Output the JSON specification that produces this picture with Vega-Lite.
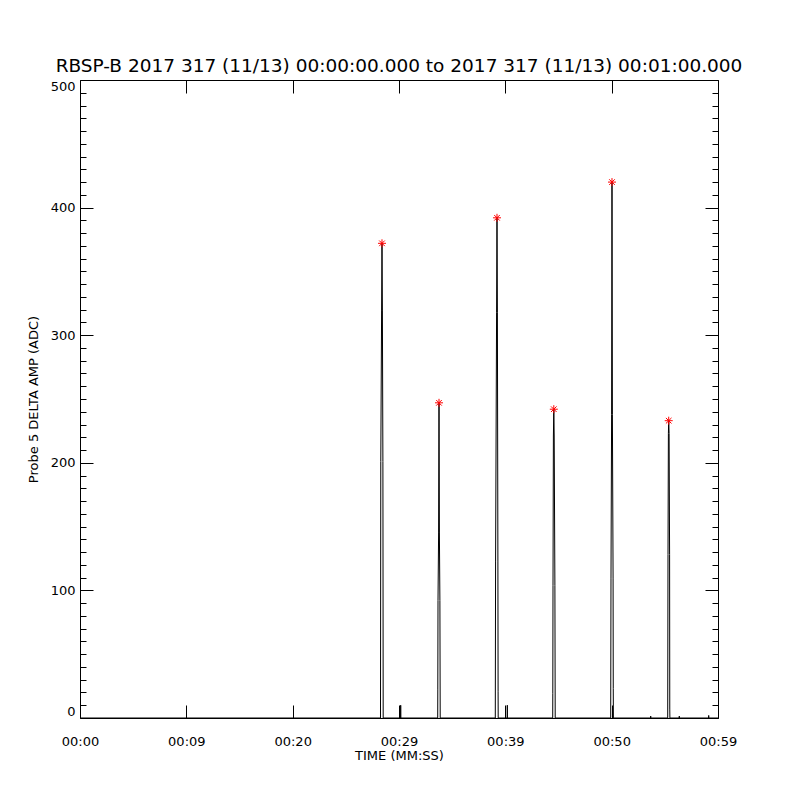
{
  "$schema": "https://vega.github.io/schema/vega-lite/v6.json",
  "width": 638,
  "height": 638,
  "autosize": {"type": "none"},
  "padding": {"left": 80, "top": 80, "right": 82, "bottom": 82},
  "background": "white",
  "title": {
    "text": "RBSP-B 2017 317 (11/13) 00:00:00.000 to 2017 317 (11/13) 00:01:00.000",
    "font": "DejaVu Sans",
    "fontSize": 18.5,
    "fontWeight": "normal",
    "color": "black",
    "anchor": "middle",
    "offset": 4
  },
  "config": {
    "view": {"stroke": "black", "strokeWidth": 1},
    "axis": {
      "grid": false,
      "domain": false,
      "labelFont": "DejaVu Sans",
      "labelFontSize": 13,
      "labelColor": "black",
      "tickColor": "black",
      "tickWidth": 1,
      "titleFont": "DejaVu Sans",
      "titleFontSize": 13,
      "titleFontWeight": "normal",
      "titleColor": "black",
      "labelFlush": false,
      "labelOverlap": false,
      "labelBound": false
    }
  },
  "datasets": {
    "series": [
      {"t": 0, "amp": 0},
      {"t": 28.26, "amp": 0},
      {"t": 28.288, "amp": 201},
      {"t": 28.364, "amp": 319},
      {"t": 28.401, "amp": 372},
      {"t": 28.439, "amp": 319},
      {"t": 28.486, "amp": 201},
      {"t": 28.514, "amp": 0},
      {"t": 30.15, "amp": 0},
      {"t": 30.16, "amp": 10},
      {"t": 30.17, "amp": 0},
      {"t": 33.64, "amp": 0},
      {"t": 33.65, "amp": 22},
      {"t": 33.668, "amp": 92},
      {"t": 33.724, "amp": 145},
      {"t": 33.762, "amp": 247},
      {"t": 33.799, "amp": 145},
      {"t": 33.846, "amp": 92},
      {"t": 33.875, "amp": 0},
      {"t": 39.056, "amp": 0},
      {"t": 39.084, "amp": 123},
      {"t": 39.178, "amp": 318},
      {"t": 39.216, "amp": 392},
      {"t": 39.254, "amp": 318},
      {"t": 39.301, "amp": 123},
      {"t": 39.32, "amp": 21},
      {"t": 39.329, "amp": 0},
      {"t": 40.175, "amp": 0},
      {"t": 40.185, "amp": 10},
      {"t": 40.195, "amp": 0},
      {"t": 44.455, "amp": 0},
      {"t": 44.465, "amp": 19},
      {"t": 44.483, "amp": 104},
      {"t": 44.52, "amp": 221},
      {"t": 44.558, "amp": 242},
      {"t": 44.595, "amp": 221},
      {"t": 44.661, "amp": 104},
      {"t": 44.69, "amp": 0},
      {"t": 49.909, "amp": 0},
      {"t": 49.937, "amp": 109},
      {"t": 49.994, "amp": 238},
      {"t": 50.031, "amp": 420},
      {"t": 50.069, "amp": 238},
      {"t": 50.134, "amp": 109},
      {"t": 50.15, "amp": 23},
      {"t": 50.163, "amp": 0},
      {"t": 53.66, "amp": 0},
      {"t": 53.671, "amp": 1.5},
      {"t": 53.68, "amp": 0},
      {"t": 55.27, "amp": 0},
      {"t": 55.298, "amp": 128},
      {"t": 55.335, "amp": 223},
      {"t": 55.364, "amp": 233},
      {"t": 55.401, "amp": 223},
      {"t": 55.448, "amp": 128},
      {"t": 55.465, "amp": 7},
      {"t": 55.476, "amp": 0},
      {"t": 56.35, "amp": 0},
      {"t": 56.361, "amp": 1.5},
      {"t": 56.37, "amp": 0},
      {"t": 59.115, "amp": 0},
      {"t": 59.125, "amp": 2},
      {"t": 59.135, "amp": 0},
      {"t": 60, "amp": 0}
    ],
    "peaks": [
      {"t": 28.401, "amp": 372},
      {"t": 33.762, "amp": 247},
      {"t": 39.216, "amp": 392},
      {"t": 44.558, "amp": 242},
      {"t": 50.031, "amp": 420},
      {"t": 55.364, "amp": 233}
    ]
  },
  "layer": [
    {
      "data": {"name": "series"},
      "mark": {"type": "line", "color": "black", "strokeWidth": 1, "clip": true, "interpolate": "linear"},
      "encoding": {
        "x": {
          "field": "t",
          "type": "quantitative",
          "sort": null,
          "scale": {"domain": [0, 60], "nice": false, "zero": false},
          "axis": {
            "orient": "bottom",
            "values": [0, 10, 20, 30, 40, 50, 60],
            "tickSize": -13,
            "labelPadding": 30,
            "labelExpr": "['00:00','00:09','00:20','00:29','00:39','00:50','00:59'][round(datum.value/10)]",
            "title": "TIME (MM:SS)",
            "titlePadding": 1
          }
        },
        "y": {
          "field": "amp",
          "type": "quantitative",
          "scale": {"domain": [0, 500], "nice": false},
          "axis": {
            "orient": "left",
            "values": [0, 10, 20, 30, 40, 50, 60, 70, 80, 90, 100, 110, 120, 130, 140, 150, 160, 170, 180, 190, 200, 210, 220, 230, 240, 250, 260, 270, 280, 290, 300, 310, 320, 330, 340, 350, 360, 370, 380, 390, 400, 410, 420, 430, 440, 450, 460, 470, 480, 490, 500],
            "tickSize": {"condition": {"test": "datum.value % 100 === 0", "value": -13}, "value": -6},
            "labelPadding": 18,
            "labelFlush": true,
            "labelExpr": "datum.value % 100 === 0 ? datum.label : ''",
            "title": "Probe 5 DELTA AMP (ADC)",
            "titlePadding": 10
          }
        },
        "order": {"field": "t", "type": "quantitative"}
      }
    },
    {
      "data": {"name": "peaks"},
      "mark": {
        "type": "point",
        "shape": "M-1,0L1,0M0,-1L0,1M-0.7,-0.7L0.7,0.7M-0.7,0.7L0.7,-0.7",
        "filled": false,
        "color": "#ff0000",
        "strokeWidth": 1,
        "size": 64,
        "opacity": 1
      },
      "encoding": {
        "x": {
          "field": "t",
          "type": "quantitative",
          "scale": {"domain": [0, 60], "nice": false, "zero": false},
          "axis": {
            "orient": "top",
            "values": [0, 10, 20, 30, 40, 50, 60],
            "tickSize": -13,
            "labels": false,
            "title": null
          }
        },
        "y": {
          "field": "amp",
          "type": "quantitative",
          "scale": {"domain": [0, 500], "nice": false},
          "axis": {
            "orient": "right",
            "values": [0, 10, 20, 30, 40, 50, 60, 70, 80, 90, 100, 110, 120, 130, 140, 150, 160, 170, 180, 190, 200, 210, 220, 230, 240, 250, 260, 270, 280, 290, 300, 310, 320, 330, 340, 350, 360, 370, 380, 390, 400, 410, 420, 430, 440, 450, 460, 470, 480, 490, 500],
            "tickSize": {"condition": {"test": "datum.value % 100 === 0", "value": -13}, "value": -6},
            "labels": false,
            "title": null
          }
        }
      }
    }
  ],
  "resolve": {"axis": {"x": "independent", "y": "independent"}}
}
